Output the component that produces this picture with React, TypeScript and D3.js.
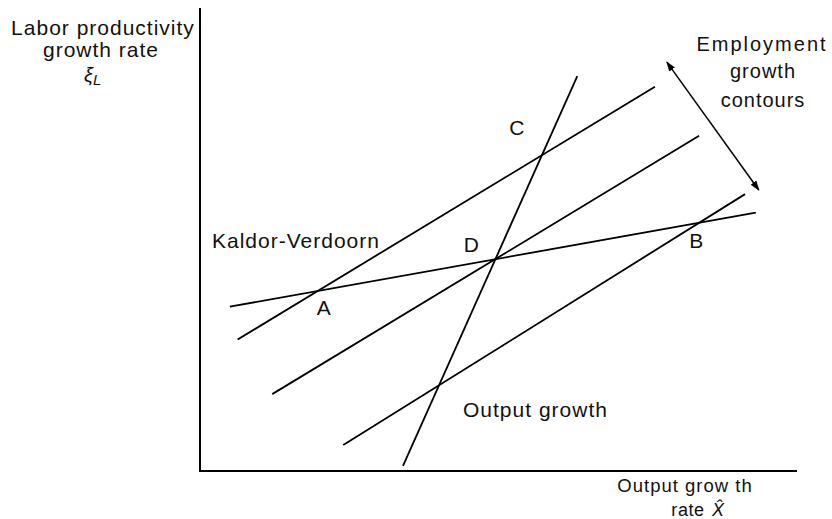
import React, { useEffect, useRef } from 'react';
import * as d3 from 'd3';

// lines of the diagram, in chart units (0..100 on both axes)
const lineNames = ['Kaldor-Verdoorn', 'Output growth', 'Contour 1', 'Contour 2', 'Contour 3'];
const lineX0 = [5.0, 34.0, 6.3, 12.1, 24.0];
const lineY0 = [35.5, 1.1, 28.4, 16.6, 5.6];
const lineX1 = [93.1, 63.2, 76.2, 83.6, 91.3];
const lineY1 = [55.8, 85.3, 83.0, 72.4, 59.8];

// double arrow across the employment growth contours
const arrowX = [78.2, 93.6];
const arrowY = [88.3, 60.7];

// intersection points: label and the two lines that cross there
const pointNames = ['A', 'B', 'C', 'D'];
const pointLines: [number, number][] = [[0, 2], [0, 4], [1, 2], [0, 1]];

const W = 832;
const H = 519;
const FONT = '"Liberation Sans", Arial, Helvetica, sans-serif';

const App = () => {
  const svgRef = useRef<SVGSVGElement>(null);

  useEffect(() => {
    const svg = d3.select(svgRef.current);
    svg.selectAll('*').remove();

    const x = d3.scaleLinear().domain([0, 100]).range([200, 797]);
    const y = d3.scaleLinear().domain([0, 100]).range([471, 8]);

    const defs = svg.append('defs');
    defs.append('marker')
      .attr('id', 'head')
      .attr('viewBox', '0 0 10 10')
      .attr('refX', 9)
      .attr('refY', 5)
      .attr('markerWidth', 10)
      .attr('markerHeight', 10)
      .attr('markerUnits', 'userSpaceOnUse')
      .attr('orient', 'auto-start-reverse')
      .append('path')
      .attr('d', 'M0,1.5 L10,5 L0,8.5 Z')
      .attr('fill', '#000');

    // axes (no ticks)
    const axisLine = d3.line<[number, number]>().x(d => x(d[0])).y(d => y(d[1]));
    svg.append('path')
      .attr('d', axisLine([[0, 100], [0, 0], [100, 0]]))
      .attr('fill', 'none')
      .attr('stroke', '#000')
      .attr('stroke-width', 2);

    // the five straight lines
    svg.append('g')
      .selectAll('line')
      .data(lineNames)
      .join('line')
      .attr('x1', (_, i) => x(lineX0[i]))
      .attr('y1', (_, i) => y(lineY0[i]))
      .attr('x2', (_, i) => x(lineX1[i]))
      .attr('y2', (_, i) => y(lineY1[i]))
      .attr('stroke', '#000')
      .attr('stroke-width', 1.8);

    svg.append('line')
      .attr('x1', x(arrowX[0]))
      .attr('y1', y(arrowY[0]))
      .attr('x2', x(arrowX[1]))
      .attr('y2', y(arrowY[1]))
      .attr('stroke', '#000')
      .attr('stroke-width', 1.5)
      .attr('marker-start', 'url(#head)')
      .attr('marker-end', 'url(#head)');

    // intersection of two lines, in chart units
    const cross = (a: number, b: number) => {
      const ma = (lineY1[a] - lineY0[a]) / (lineX1[a] - lineX0[a]);
      const mb = (lineY1[b] - lineY0[b]) / (lineX1[b] - lineX0[b]);
      const ca = lineY0[a] - ma * lineX0[a];
      const cb = lineY0[b] - mb * lineX0[b];
      const px = (cb - ca) / (ma - mb);
      return [px, ma * px + ca];
    };
    const labelOffset = [[6, 24], [-3, 25], [-25, -20], [-24, -7]];

    const text = (str: string, tx: number, ty: number, anchor = 'start', size = 21, spacing = 1) =>
      svg.append('text')
        .attr('x', tx)
        .attr('y', ty)
        .attr('text-anchor', anchor)
        .attr('font-family', FONT)
        .attr('font-size', size)
        .attr('letter-spacing', spacing)
        .attr('fill', '#111')
        .text(str);

    pointNames.forEach((name, i) => {
      const [px, py] = cross(pointLines[i][0], pointLines[i][1]);
      text(name, x(px) + labelOffset[i][0], y(py) + labelOffset[i][1], 'middle', 21, 0);
    });

    // labels
    text('Labor productivity', 103, 35, 'middle');
    text('growth rate', 101, 57, 'middle');
    const xi = svg.append('text')
      .attr('x', 84)
      .attr('y', 82)
      .attr('font-family', FONT)
      .attr('font-style', 'italic')
      .attr('font-size', 20)
      .attr('fill', '#111');
    xi.append('tspan').text('ξ');
    xi.append('tspan').attr('font-size', 15).attr('dy', 3).text('L');

    text('Employment', 762, 51, 'middle', 20, 2);
    text('growth', 763, 78, 'middle', 20, 1);
    text('contours', 763, 107, 'middle', 20, 1);

    text('Kaldor-Verdoorn', 212, 248);
    text('Output growth', 463, 417);

    text('Output grow th', 685, 492, 'middle', 18.5, 1);
    text('rate', 688, 516, 'middle', 18, 0.6);
    text('X\u0302', 712, 516, 'start', 18, 0).attr('font-style', 'italic');
  }, []);

  return (
    <svg
      ref={svgRef}
      width={W}
      height={H}
      viewBox={`0 0 ${W} ${H}`}
      style={{ position: 'absolute', left: 0, top: 0, background: '#fff' }}
    />
  );
};

export default App;
